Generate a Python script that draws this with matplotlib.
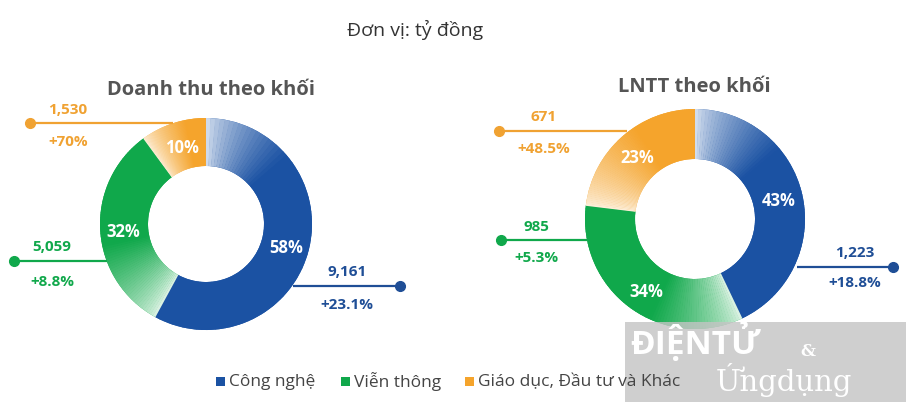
import numpy as np
import matplotlib.pyplot as plt
from matplotlib.patches import Wedge, Rectangle
from matplotlib.colors import to_rgb

plt.rcParams['font.family'] = ['Open Sans', 'DejaVu Sans']

segments = ['Công nghệ', 'Viễn thông', 'Giáo dục, Đầu tư và Khác']
rev_share = [58, 32, 10]
rev_value = ['9,161', '5,059', '1,530']
rev_growth = ['+23.1%', '+8.8%', '+70%']
pbt_share = [43, 34, 23]
pbt_value = ['1,223', '985', '671']
pbt_growth = ['+18.8%', '+5.3%', '+48.5%']

dark = ['#1b52a3', '#10a84b', '#f5a42c']
light = ['#dde6f2', '#e4f5e9', '#fdf1df']
text_col = ['#1f4e96', '#10a84b', '#f0a232']

W, H = 906, 414
fig = plt.figure(figsize=(W / 100, H / 100), dpi=100)
ax = fig.add_axes([0, 0, 1, 1])


def fy(y):
    return H - y


def donut(share, cx, cy, r, rin):
    wedges, _ = ax.pie(share, radius=r, center=(cx, fy(cy)), startangle=90,
                       counterclock=False, colors=dark,
                       wedgeprops=dict(width=r - rin, linewidth=0))
    # angular gradient: light at clockwise start, saturated later
    for i, w in enumerate(wedges):
        t1, t2 = w.theta1, w.theta2
        span = t2 - t1
        ramp = min(50, 0.7 * span)
        n = 80
        edges = np.linspace(t2, t1, n + 1)
        c0, c1 = np.array(to_rgb(light[i])), np.array(to_rgb(dark[i]))
        for k in range(n):
            a = (t2 - (edges[k] + edges[k + 1]) / 2)
            f = min(1, a / ramp) ** 0.7
            col = c0 + (c1 - c0) * f
            ax.add_patch(Wedge((cx, fy(cy)), r, edges[k + 1], edges[k] + 0.3,
                               width=r - rin, facecolor=col, linewidth=0))


donut(rev_share, 206, 225, 106, 58)
donut(pbt_share, 695, 220, 110, 60)

ax.set_xlim(0, W)
ax.set_ylim(0, H)
ax.set_aspect('equal')
ax.axis('off')

# titles
ax.text(415, fy(30), 'Đơn vị: tỷ đồng', ha='center', va='center', fontsize=14, color='#333333')
ax.text(211, fy(90), 'Doanh thu theo khối', ha='center', va='center', fontsize=14.5,
        fontweight='bold', color='#555555')
ax.text(694, fy(87), 'LNTT theo khối', ha='center', va='center', fontsize=14.5,
        fontweight='bold', color='#555555')

# inside percentage labels
pct_pos_left = [(286, 248), (123, 232), (182, 148)]
pct_pos_right = [(779, 201), (646, 292), (637, 158)]
for s, (x, y) in zip(rev_share, pct_pos_left):
    ax.text(x, fy(y), f'{s}%', ha='center', va='center', fontsize=12, fontweight='bold', color='white')
for s, (x, y) in zip(pbt_share, pct_pos_right):
    ax.text(x, fy(y), f'{s}%', ha='center', va='center', fontsize=12, fontweight='bold', color='white')

# callouts: (dot x, line end x, line y, text x, value y, growth y)
call_left = [(400, 293, 287, 347, 272, 305),
             (14, 107, 262, 52, 247, 282),
             (30, 173, 124, 68, 110, 142)]
call_right = [(893, 797, 268, 855, 253, 283),
              (501, 587, 241, 536, 227, 258),
              (499, 627, 132, 544, 117, 149)]
for calls, vals, grs in [(call_left, rev_value, rev_growth), (call_right, pbt_value, pbt_growth)]:
    for i, (dx, lx, ly, tx, vy, gy) in enumerate(calls):
        ax.plot([dx, lx], [fy(ly), fy(ly)], color=text_col[i], lw=1.6, solid_capstyle='butt', zorder=1)
        ax.plot(dx, fy(ly), 'o', color=text_col[i], markersize=7, zorder=2)
        ax.text(tx, fy(vy), vals[i], ha='center', va='center', fontsize=11,
                fontweight='bold', color=text_col[i])
        ax.text(tx, fy(gy), grs[i], ha='center', va='center', fontsize=11,
                fontweight='bold', color=text_col[i])

# legend
leg_x = [216, 341, 465]
for i, name in enumerate(segments):
    ax.add_patch(Rectangle((leg_x[i], fy(387)), 9, 9, facecolor=dark[i], linewidth=0, zorder=7))
    ax.text(leg_x[i] + 13, fy(382), name, ha='left', va='center', fontsize=12.5,
            color='#444444', zorder=7)

# watermark
ax.add_patch(Rectangle((625, fy(403)), 281, 80, facecolor='#c4c4c4', alpha=0.8,
                       linewidth=0, zorder=5))
ax.text(630, fy(342), 'ĐIỆNTỬ', ha='left', va='center', fontsize=24, fontweight='bold',
        color='white', zorder=6)
ax.text(800, fy(352), '&', ha='left', va='center', fontsize=12, fontweight='bold',
        color='white', zorder=6, family='DejaVu Serif')
ax.text(716, fy(380), 'Ứngdụng', ha='left', va='center', fontsize=21,
        color='white', zorder=6, family='DejaVu Serif')

fig.savefig('out.png', dpi=100, facecolor='white')
